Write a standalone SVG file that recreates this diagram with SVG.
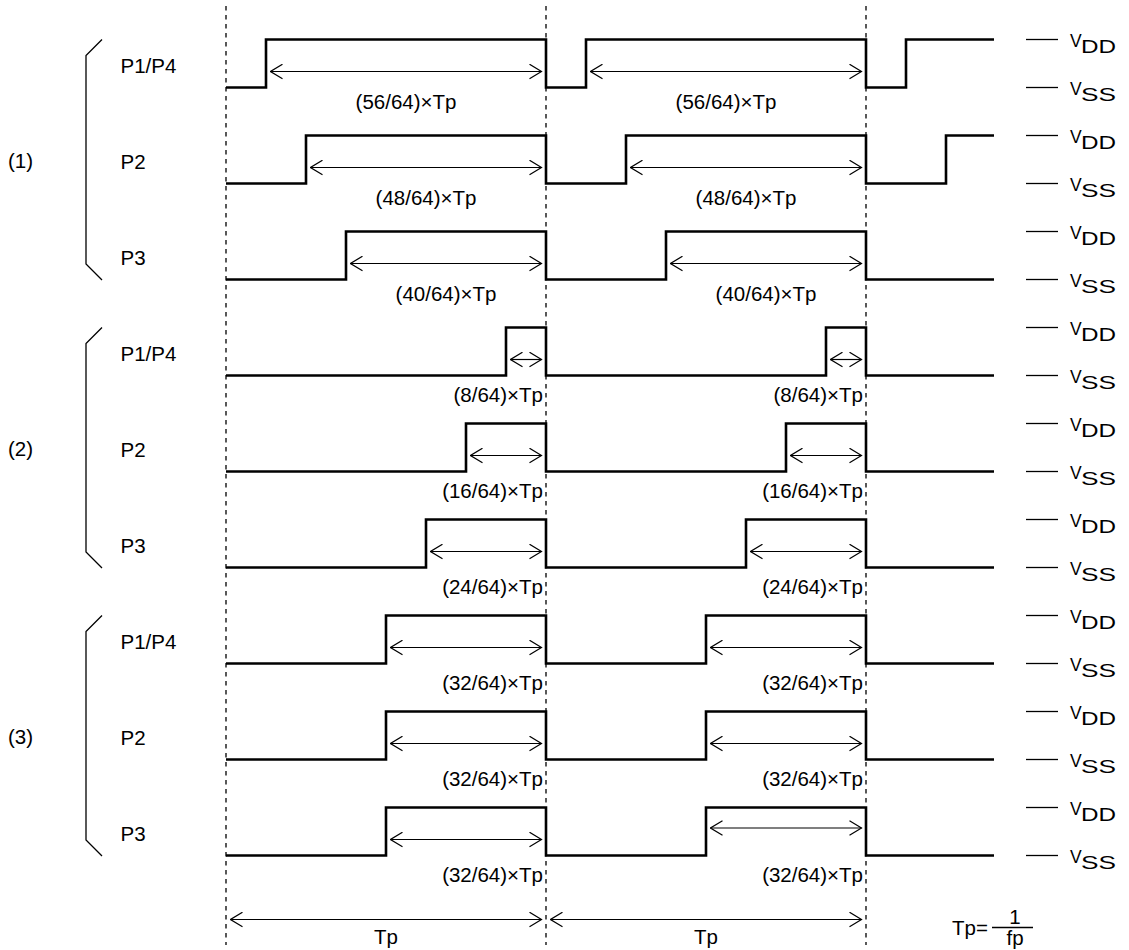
<svg xmlns="http://www.w3.org/2000/svg" width="1129" height="950" viewBox="0 0 1129 950">
<style>
text{font-family:"Liberation Sans",Arial,Helvetica,sans-serif;fill:#000;}
.t{font-size:20.5px;}
.m{text-anchor:middle;}
.e{text-anchor:end;}
.v{font-size:17.5px;}
.w{fill:none;stroke:#000;stroke-width:2.6;stroke-linejoin:miter;}
.a{fill:none;stroke:#000;stroke-width:1.2;marker-start:url(#ah);marker-end:url(#ah);}
.d{fill:none;stroke:#000;stroke-width:1.3;stroke-dasharray:4.5 4.5;}
.b{fill:none;stroke:#000;stroke-width:1.3;}
.r{fill:none;stroke:#000;stroke-width:1.3;}
</style>
<defs>
<marker id="ah" viewBox="0 0 14 16" refX="13" refY="8" markerWidth="14" markerHeight="16" markerUnits="userSpaceOnUse" orient="auto-start-reverse">
<path d="M1,0.7 L13,8 L1,15.3" fill="none" stroke="#000" stroke-width="1.2"/>
</marker>
</defs>
<rect width="1129" height="950" fill="#fff"/>

<g id="dashed-guides">
<line class="d" x1="226" y1="6" x2="226" y2="945"/>
<line class="d" x1="546" y1="6" x2="546" y2="945"/>
<line class="d" x1="866" y1="6" x2="866" y2="945"/>
</g>

<g id="group1">
<polyline class="b" points="102,39.5 86,55.5 86,264 102,280"/>
<text class="t" x="8" y="168">(1)</text>
</g>
<g id="group2">
<polyline class="b" points="102,327.5 86,343.5 86,552 102,568"/>
<text class="t" x="8" y="456">(2)</text>
</g>
<g id="group3">
<polyline class="b" points="102,615.5 86,631.5 86,840 102,856"/>
<text class="t" x="8" y="744">(3)</text>
</g>

<g id="row1-P1P4">
<text class="t" x="120.5" y="72.5">P1/P4</text>
<path class="w" d="M226,87.5 H266 V39.5 H546 V87.5 H586 V39.5 H866 V87.5 H906 V39.5 H994"/>
<text class="t m" x="406" y="108.5">(56/64)×Tp</text>
<text class="t m" x="726" y="108.5">(56/64)×Tp</text>
</g>
<g id="row2-P2">
<text class="t" x="120.5" y="168.5">P2</text>
<path class="w" d="M226,183.5 H306 V135.5 H546 V183.5 H626 V135.5 H866 V183.5 H946 V135.5 H994"/>
<text class="t m" x="426" y="204.5">(48/64)×Tp</text>
<text class="t m" x="746" y="204.5">(48/64)×Tp</text>
</g>
<g id="row3-P3">
<text class="t" x="120.5" y="264.5">P3</text>
<path class="w" d="M226,279.5 H346 V231.5 H546 V279.5 H666 V231.5 H866 V279.5 H994"/>
<text class="t m" x="446" y="300.5">(40/64)×Tp</text>
<text class="t m" x="766" y="300.5">(40/64)×Tp</text>
</g>
<g id="row4-P1P4">
<text class="t" x="120.5" y="360.5">P1/P4</text>
<path class="w" d="M226,375.5 H506 V327.5 H546 V375.5 H826 V327.5 H866 V375.5 H994"/>
<text class="t e" x="543" y="401.5">(8/64)×Tp</text>
<text class="t e" x="863" y="401.5">(8/64)×Tp</text>
</g>
<g id="row5-P2">
<text class="t" x="120.5" y="456.5">P2</text>
<path class="w" d="M226,471.5 H466 V423.5 H546 V471.5 H786 V423.5 H866 V471.5 H994"/>
<text class="t e" x="543" y="497.5">(16/64)×Tp</text>
<text class="t e" x="863" y="497.5">(16/64)×Tp</text>
</g>
<g id="row6-P3">
<text class="t" x="120.5" y="552.5">P3</text>
<path class="w" d="M226,567.5 H426 V519.5 H546 V567.5 H746 V519.5 H866 V567.5 H994"/>
<text class="t e" x="543" y="593.5">(24/64)×Tp</text>
<text class="t e" x="863" y="593.5">(24/64)×Tp</text>
</g>
<g id="row7-P1P4">
<text class="t" x="120.5" y="648.5">P1/P4</text>
<path class="w" d="M226,663.5 H386 V615.5 H546 V663.5 H706 V615.5 H866 V663.5 H994"/>
<text class="t e" x="543" y="689.5">(32/64)×Tp</text>
<text class="t e" x="863" y="689.5">(32/64)×Tp</text>
</g>
<g id="row8-P2">
<text class="t" x="120.5" y="744.5">P2</text>
<path class="w" d="M226,759.5 H386 V711.5 H546 V759.5 H706 V711.5 H866 V759.5 H994"/>
<text class="t e" x="543" y="785.5">(32/64)×Tp</text>
<text class="t e" x="863" y="785.5">(32/64)×Tp</text>
</g>
<g id="row9-P3">
<text class="t" x="120.5" y="840.5">P3</text>
<path class="w" d="M226,855.5 H386 V807.5 H546 V855.5 H706 V807.5 H866 V855.5 H994"/>
<text class="t e" x="543" y="881.5">(32/64)×Tp</text>
<text class="t e" x="863" y="881.5">(32/64)×Tp</text>
</g>

<g id="connectors">
<line class="a" x1="270.5" y1="71.5" x2="541.5" y2="71.5"/>
<line class="a" x1="590.5" y1="71.5" x2="861.5" y2="71.5"/>
<line class="a" x1="310.5" y1="167.5" x2="541.5" y2="167.5"/>
<line class="a" x1="630.5" y1="167.5" x2="861.5" y2="167.5"/>
<line class="a" x1="350.5" y1="263.5" x2="541.5" y2="263.5"/>
<line class="a" x1="670.5" y1="263.5" x2="861.5" y2="263.5"/>
<line class="a" x1="510.5" y1="359.5" x2="541.5" y2="359.5"/>
<line class="a" x1="830.5" y1="359.5" x2="861.5" y2="359.5"/>
<line class="a" x1="470.5" y1="455.5" x2="541.5" y2="455.5"/>
<line class="a" x1="790.5" y1="455.5" x2="861.5" y2="455.5"/>
<line class="a" x1="430.5" y1="551.5" x2="541.5" y2="551.5"/>
<line class="a" x1="750.5" y1="551.5" x2="861.5" y2="551.5"/>
<line class="a" x1="390.5" y1="647.5" x2="541.5" y2="647.5"/>
<line class="a" x1="710.5" y1="647.5" x2="861.5" y2="647.5"/>
<line class="a" x1="390.5" y1="743.5" x2="541.5" y2="743.5"/>
<line class="a" x1="710.5" y1="743.5" x2="861.5" y2="743.5"/>
<line class="a" x1="390.5" y1="839.5" x2="541.5" y2="839.5"/>
<line class="a" x1="710.5" y1="828" x2="861.5" y2="828"/>
<line class="a" x1="230.5" y1="919.5" x2="541.5" y2="919.5"/>
<line class="a" x1="550.5" y1="919.5" x2="861.5" y2="919.5"/>
</g>

<g id="period-labels">
<text class="t m" x="386" y="943.5">Tp</text>
<text class="t m" x="706" y="943.5">Tp</text>
<text class="t e" x="988" y="935">Tp=</text>
<line class="r" x1="992" y1="927.5" x2="1033" y2="927.5"/>
<text class="t m" x="1015" y="923.5">1</text>
<text class="t m" x="1015" y="944.5">fp</text>
</g>

<g id="levels">
<g id="lv1">
<line class="r" x1="1026" y1="39.5" x2="1058" y2="39.5"/><text class="v" x="1070" y="46.7">V</text><text class="v" x="1081" y="53.3" textLength="35" lengthAdjust="spacingAndGlyphs">DD</text>
<line class="r" x1="1026" y1="87.5" x2="1058" y2="87.5"/><text class="v" x="1070" y="94.7">V</text><text class="v" x="1081" y="101.3" textLength="35" lengthAdjust="spacingAndGlyphs">SS</text>
</g>
<g id="lv2">
<line class="r" x1="1026" y1="135.5" x2="1058" y2="135.5"/><text class="v" x="1070" y="142.7">V</text><text class="v" x="1081" y="149.3" textLength="35" lengthAdjust="spacingAndGlyphs">DD</text>
<line class="r" x1="1026" y1="183.5" x2="1058" y2="183.5"/><text class="v" x="1070" y="190.7">V</text><text class="v" x="1081" y="197.3" textLength="35" lengthAdjust="spacingAndGlyphs">SS</text>
</g>
<g id="lv3">
<line class="r" x1="1026" y1="231.5" x2="1058" y2="231.5"/><text class="v" x="1070" y="238.7">V</text><text class="v" x="1081" y="245.3" textLength="35" lengthAdjust="spacingAndGlyphs">DD</text>
<line class="r" x1="1026" y1="279.5" x2="1058" y2="279.5"/><text class="v" x="1070" y="286.7">V</text><text class="v" x="1081" y="293.3" textLength="35" lengthAdjust="spacingAndGlyphs">SS</text>
</g>
<g id="lv4">
<line class="r" x1="1026" y1="327.5" x2="1058" y2="327.5"/><text class="v" x="1070" y="334.7">V</text><text class="v" x="1081" y="341.3" textLength="35" lengthAdjust="spacingAndGlyphs">DD</text>
<line class="r" x1="1026" y1="375.5" x2="1058" y2="375.5"/><text class="v" x="1070" y="382.7">V</text><text class="v" x="1081" y="389.3" textLength="35" lengthAdjust="spacingAndGlyphs">SS</text>
</g>
<g id="lv5">
<line class="r" x1="1026" y1="423.5" x2="1058" y2="423.5"/><text class="v" x="1070" y="430.7">V</text><text class="v" x="1081" y="437.3" textLength="35" lengthAdjust="spacingAndGlyphs">DD</text>
<line class="r" x1="1026" y1="471.5" x2="1058" y2="471.5"/><text class="v" x="1070" y="478.7">V</text><text class="v" x="1081" y="485.3" textLength="35" lengthAdjust="spacingAndGlyphs">SS</text>
</g>
<g id="lv6">
<line class="r" x1="1026" y1="519.5" x2="1058" y2="519.5"/><text class="v" x="1070" y="526.7">V</text><text class="v" x="1081" y="533.3" textLength="35" lengthAdjust="spacingAndGlyphs">DD</text>
<line class="r" x1="1026" y1="567.5" x2="1058" y2="567.5"/><text class="v" x="1070" y="574.7">V</text><text class="v" x="1081" y="581.3" textLength="35" lengthAdjust="spacingAndGlyphs">SS</text>
</g>
<g id="lv7">
<line class="r" x1="1026" y1="615.5" x2="1058" y2="615.5"/><text class="v" x="1070" y="622.7">V</text><text class="v" x="1081" y="629.3" textLength="35" lengthAdjust="spacingAndGlyphs">DD</text>
<line class="r" x1="1026" y1="663.5" x2="1058" y2="663.5"/><text class="v" x="1070" y="670.7">V</text><text class="v" x="1081" y="677.3" textLength="35" lengthAdjust="spacingAndGlyphs">SS</text>
</g>
<g id="lv8">
<line class="r" x1="1026" y1="711.5" x2="1058" y2="711.5"/><text class="v" x="1070" y="718.7">V</text><text class="v" x="1081" y="725.3" textLength="35" lengthAdjust="spacingAndGlyphs">DD</text>
<line class="r" x1="1026" y1="759.5" x2="1058" y2="759.5"/><text class="v" x="1070" y="766.7">V</text><text class="v" x="1081" y="773.3" textLength="35" lengthAdjust="spacingAndGlyphs">SS</text>
</g>
<g id="lv9">
<line class="r" x1="1026" y1="807.5" x2="1058" y2="807.5"/><text class="v" x="1070" y="814.7">V</text><text class="v" x="1081" y="821.3" textLength="35" lengthAdjust="spacingAndGlyphs">DD</text>
<line class="r" x1="1026" y1="855.5" x2="1058" y2="855.5"/><text class="v" x="1070" y="862.7">V</text><text class="v" x="1081" y="869.3" textLength="35" lengthAdjust="spacingAndGlyphs">SS</text>
</g>
</g>
</svg>
